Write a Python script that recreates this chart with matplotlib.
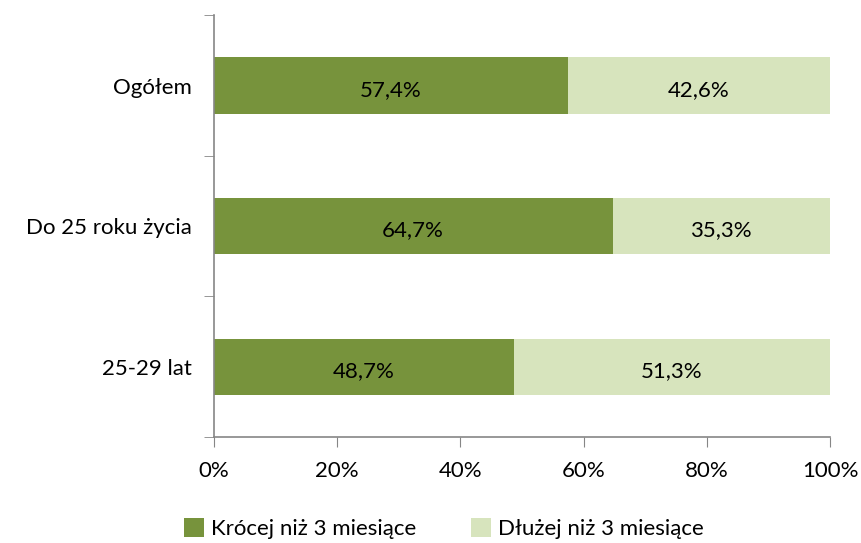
import numpy as np
import matplotlib
matplotlib.use("Agg")
from matplotlib import pyplot as plt

plt.rcParams['font.family'] = ['Lato', 'DejaVu Sans']

categories = ['Ogółem', 'Do 25 roku życia', '25-29 lat']
krocej = [57.4, 64.7, 48.7]
dluzej = [42.6, 35.3, 51.3]
series_names = ['Krócej niż 3 miesiące', 'Dłużej niż 3 miesiące']

dark = '#77933C'
light = '#D7E4BD'
grey = '#868686'
fs = 16

fig = plt.figure(figsize=(8.62, 5.43), dpi=100)
ax = fig.add_axes([0.248, 0.195, 0.715, 0.777])

y = np.arange(len(categories))
ax.barh(y, krocej, height=0.4, color=dark, label=series_names[0])
ax.barh(y, dluzej, left=krocej, height=0.4, color=light, label=series_names[1])

for i in range(len(categories)):
    ax.text(krocej[i] / 2, y[i] + 0.03, f'{krocej[i]:.1f}%'.replace('.', ','),
            ha='center', va='center', fontsize=fs, color='black')
    ax.text(krocej[i] + dluzej[i] / 2, y[i] + 0.03, f'{dluzej[i]:.1f}%'.replace('.', ','),
            ha='center', va='center', fontsize=fs, color='black')

ax.set_xlim(0, 100)
ax.set_ylim(2.5, -0.5)
ax.set_xticks(np.arange(0, 101, 20))
ax.set_xticklabels([f'{v}%' for v in range(0, 101, 20)], fontsize=fs)
ax.set_yticks(y)
ax.set_yticklabels(categories, fontsize=fs)
ax.set_yticks([-0.5, 0.5, 1.5, 2.5], minor=True)
ax.tick_params(axis='y', which='major', length=0, pad=16)
ax.tick_params(axis='y', which='minor', length=7, color=grey, direction='out')
ax.tick_params(axis='x', length=7, color=grey, direction='out', pad=10)

for s in ['top', 'right']:
    ax.spines[s].set_visible(False)
for s in ['left', 'bottom']:
    ax.spines[s].set_color(grey)
    ax.spines[s].set_linewidth(1.2)

fig.legend(loc='lower center', bbox_to_anchor=(0.515, -0.03), ncol=2, frameon=False,
           fontsize=fs, handlelength=0.9, handleheight=0.9, columnspacing=2.5,
           handletextpad=0.3)

fig.savefig('out.png', dpi=100)
